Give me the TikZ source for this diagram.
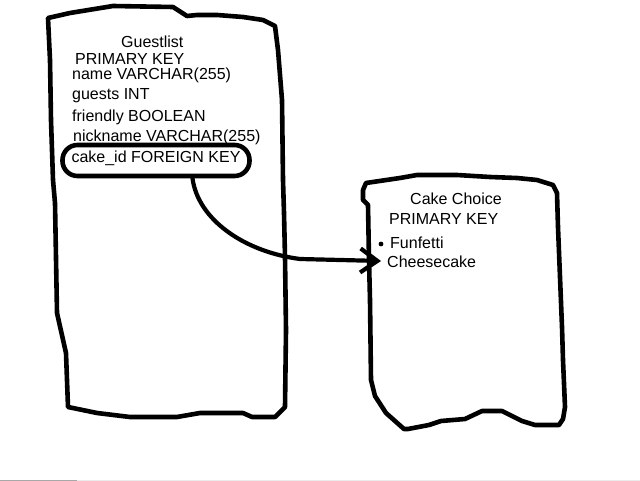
\documentclass[tikz,border=0pt]{standalone}
\usepackage{fontspec}
\setmainfont{Liberation Sans}
\usetikzlibrary{arrows.meta}
\definecolor{barDark}{HTML}{A8A8A8}
\definecolor{barLight}{HTML}{EBEBEB}
\tikzset{
  outline/.style={line width=4.6pt, line join=round, line cap=round},
  label/.style={anchor=base west, inner sep=0pt, font=\fontsize{16}{19}\selectfont},
  fkbox/.style={draw, line width=4.6pt, rounded corners=15pt, minimum width=187pt,
    minimum height=31pt, inner sep=0pt, text height=11.5pt, text depth=6.5pt,
    anchor=base, font=\fontsize{16}{19}\selectfont},
  conn/.style={line width=4.2pt, line cap=round, line join=round},
}
\begin{document}
\begin{tikzpicture}[x=1pt,y=-1pt]
\useasboundingbox (0,0) rectangle (640,481);
\fill[white] (0,0) rectangle (640,481);
\fill[barDark] (0,479.6) rectangle (77,481);
\fill[barLight] (77,479.6) rectangle (640,481);

% Guestlist box (hand drawn)
\draw[outline] (48,18) -- (70,13) -- (113,6) -- (173,7) -- (187,16) -- (197,15) -- (217,15)
  -- (243,17) -- (263,20) -- (275,26) -- (278,50) -- (282,100) -- (283,180) -- (284,213)
  -- (285,257) -- (286,330) -- (285,407) -- (275,417) -- (252,417) -- (243,413) -- (200,413)
  -- (177,417) -- (130,417) -- (97,413) -- (68,407) -- (66,353) -- (57,313) -- (55,203)
  -- (53,180) -- (51,120) -- (50,60) -- cycle;

% Cake Choice box (hand drawn)
\draw[outline] (366,183) -- (400,178) -- (417,175) -- (457,175) -- (490,177) -- (517,178)
  -- (537,180) -- (553,185) -- (557,193) -- (558,227) -- (562,327) -- (563,360) -- (565,407)
  -- (563,419) -- (559,425) -- (535,425) -- (522,421) -- (502,411) -- (482,411) -- (465,419)
  -- (441,421) -- (429,425) -- (408,429) -- (404,429) -- (386,413) -- (375,396) -- (371,380)
  -- (370,300) -- (369,260) -- (368,205) -- (363,200) -- (363,190) -- cycle;

% Guestlist texts
\node[label] (gt) at (121,48) {Guestlist};
\node[label] (gpk) at (75,65) {PRIMARY KEY};
\node[label] (gname) at (72,80) {name VARCHAR(255)};
\node[label] (gguests) at (72,100) {guests INT};
\node[label] (gfriendly) at (72,122) {friendly BOOLEAN};
\node[label] (gnick) at (73,142) {nickname VARCHAR(255)};
\node[fkbox] (fk) at (156,163) {cake\_id FOREIGN KEY};

% Cake Choice texts
\node[label] (ct) at (410,205) {Cake Choice};
\node[label] (cpk) at (389,225) {PRIMARY KEY};
\fill (381,244) circle (2.4pt);
\node[label] (cfun) at (390,249) {Funfetti};
\node[label] (ccheese) at (387,267) {Cheesecake};

% connector
\coordinate (tip) at (381,261);
\draw[conn, -{Straight Barb[length=17pt,width=24pt,line width=4.2pt]}]
  (fk.-26) .. controls (198,220) and (245,252) .. (300,259) -- (tip);
\end{tikzpicture}
\end{document}
